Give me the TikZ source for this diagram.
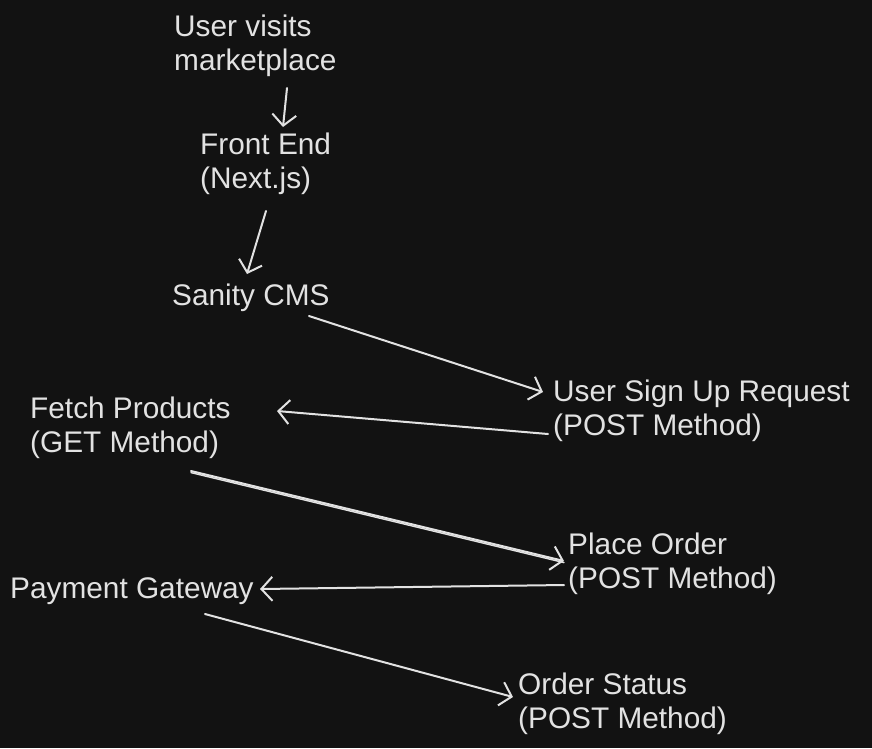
\documentclass[tikz,border=0pt]{standalone}
\usepackage{fontspec}
\setmainfont{Liberation Sans}
\usetikzlibrary{arrows.meta}
\definecolor{bg}{HTML}{121212}
\definecolor{ink}{HTML}{E2E2E2}
\tikzset{
  lbl/.style={anchor=north west, inner sep=0pt, align=left, text=ink,
    font=\fontsize{29.8}{34}\selectfont},
  conn/.style={draw=ink, line width=2pt, line cap=round,
    -{Straight Barb[length=11pt,width=24pt,line width=2pt]}},
}
\begin{document}
\begin{tikzpicture}[x=1pt,y=-1pt]
\fill[bg] (0,0) rectangle (872,748);
\useasboundingbox (0,0) rectangle (872,748);

\node[lbl] (user) at (174,15) {User visits\\marketplace};
\node[lbl] (front) at (200,133) {Front End\\(Next.js)};
\node[lbl] (sanity) at (172,284) {Sanity CMS};
\node[lbl] (signup) at (553,380) {User Sign Up Request\\(POST Method)};
\node[lbl] (fetch) at (30,397) {Fetch Products\\(GET Method)};
\node[lbl] (order) at (568,533) {Place Order\\(POST Method)};
\node[lbl] (pay) at (10,577) {Payment Gateway};
\node[lbl] (status) at (518,673) {Order Status\\(POST Method)};

\coordinate (a1s) at (287,88);   \coordinate (a1e) at (283,127);
\coordinate (a2s) at (266,211);  \coordinate (a2e) at (247,274);
\coordinate (a3s) at (309,316);  \coordinate (a3e) at (543,392);
\coordinate (a4s) at (548,434);  \coordinate (a4e) at (277,411);
\coordinate (a5s) at (191,471);  \coordinate (a5e) at (564,561);
\coordinate (a6s) at (564,585);  \coordinate (a6e) at (260,589);
\coordinate (a7s) at (205,614);  \coordinate (a7e) at (513,697);

\draw[conn] (a1s) -- (a1e);
\draw[conn] (a2s) -- (a2e);
\draw[conn] (a3s) -- (a3e);
\draw[conn] (a4s) -- (a4e);
\draw[draw=ink, line width=1.4pt, line cap=round] ([yshift=-1.6pt]a5s) -- ([yshift=-1.6pt]a5e);
\draw[conn] (a5s) -- (a5e);
\draw[conn] (a6s) -- (a6e);
\draw[conn] (a7s) -- (a7e);
\end{tikzpicture}
\end{document}
